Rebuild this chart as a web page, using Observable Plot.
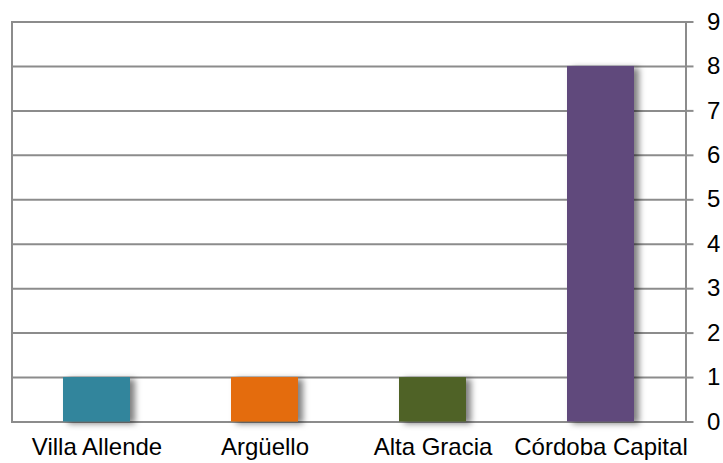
<!DOCTYPE html>
<html>
<head>
<meta charset="utf-8">
<script src="https://cdn.jsdelivr.net/npm/d3@7"></script>
<script src="https://cdn.jsdelivr.net/npm/@observablehq/plot@0.6"></script>
<style>
  html, body { margin: 0; padding: 0; background: #ffffff; }
</style>
</head>
<body>
<div id="chart"></div>
<script>
const categories = ["Villa Allende", "Argüello", "Alta Gracia", "Córdoba Capital"];
const values = [1, 1, 1, 8];
const colors = ["#31859C", "#E46C0A", "#4F6228", "#604A7B"];
const yTicks = [0, 1, 2, 3, 4, 5, 6, 7, 8, 9];

const data = categories.map((c, i) => ({category: c, value: values[i], color: colors[i]}));
const lineColor = "#8c8c8c";

const chart = Plot.plot({
  width: 723,
  height: 463,
  marginLeft: 11.5,
  marginRight: 37.5,
  marginTop: 21.5,
  marginBottom: 41.5,
  style: {fontFamily: "'Liberation Sans', Arial, sans-serif", fontSize: "24px", background: "#ffffff", color: "#000000"},
  x: {domain: categories, paddingInner: 0.6, paddingOuter: 0.3, label: null},
  y: {domain: [0, 9], label: null},
  marks: [
    Plot.gridY(yTicks, {stroke: lineColor, strokeWidth: 2, strokeOpacity: 1}),
    Plot.frame({stroke: lineColor, strokeWidth: 2}),
    Plot.barY(data, {x: "category", y: "value", fill: "color"}),
    Plot.axisY({anchor: "right", ticks: yTicks, tickSize: 7, tickPadding: 14, stroke: lineColor, strokeWidth: 2, fill: "#000000", fontSize: 24, textAnchor: "start", label: null}),
    Plot.axisX({tickSize: 0, tickPadding: 16, fill: "#000000", fontSize: 24, label: null})
  ]
});

// soft drop shadow to the lower right of each bar
const svg = d3.select(chart);
const defs = svg.insert("defs", ":first-child");
const f = defs.append("filter").attr("id", "bar-shadow")
  .attr("x", "-20%").attr("y", "-20%").attr("width", "160%").attr("height", "140%");
f.append("feDropShadow").attr("dx", 5).attr("dy", 2).attr("stdDeviation", 3)
  .attr("flood-color", "#000000").attr("flood-opacity", 0.5);
svg.selectAll("g[aria-label='bar'] rect").attr("filter", "url(#bar-shadow)");

document.getElementById("chart").appendChild(chart);
</script>
</body>
</html>
